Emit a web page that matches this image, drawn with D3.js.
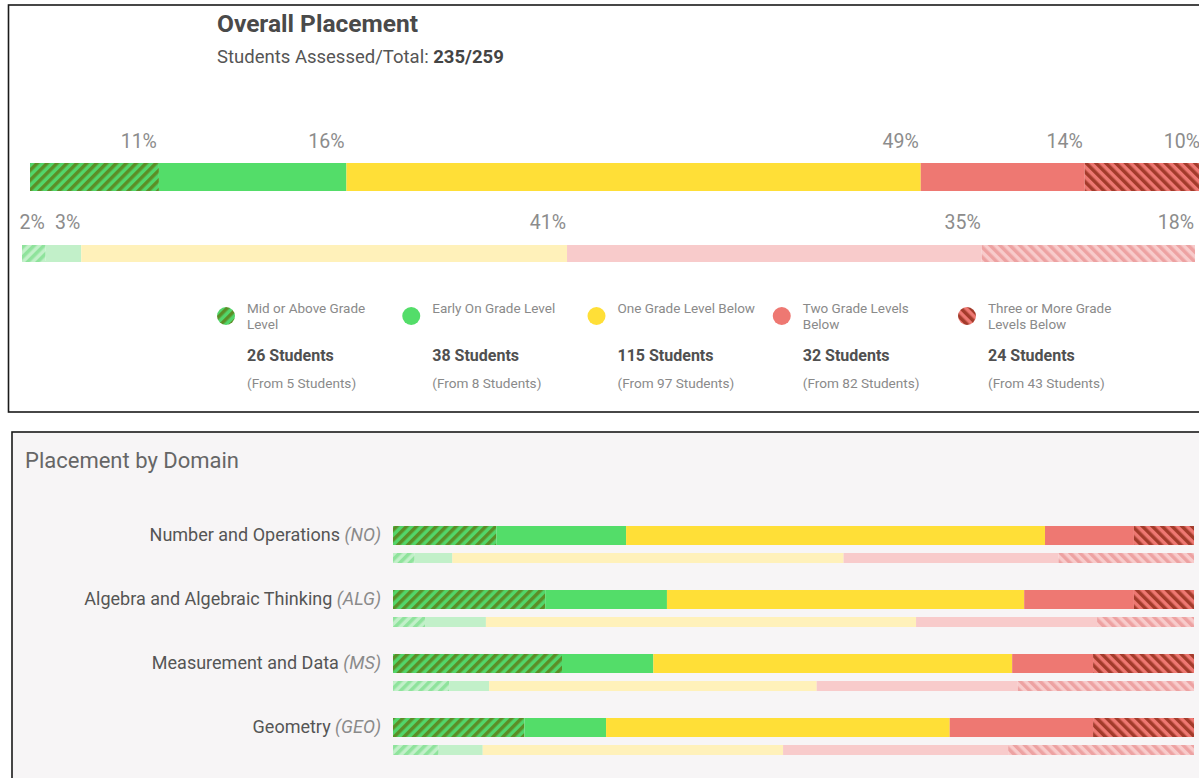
<!DOCTYPE html>
<html>
<head>
<meta charset="utf-8">
<script src="https://cdn.jsdelivr.net/npm/d3@7"></script>
<style>
  html, body { margin: 0; padding: 0; background: #ffffff; }
  svg { display: block; font-family: Roboto, "Noto Sans", sans-serif; }
</style>
</head>
<body>
<svg id="chart" width="1199" height="778"></svg>
<script>
// ---------- DATA ----------
const categories = ["Mid or Above Grade Level", "Early On Grade Level", "One Grade Level Below", "Two Grade Levels Below", "Three or More Grade Levels Below"];
const legendLines = [["Mid or Above Grade", "Level"], ["Early On Grade Level"], ["One Grade Level Below"], ["Two Grade Levels", "Below"], ["Three or More Grade", "Levels Below"]];
const currentCounts = [26, 38, 115, 32, 24];
const fromCounts = [5, 8, 97, 82, 43];
const currentPct = [11, 16, 49, 14, 10];
const fromPct = [2, 3, 41, 35, 18];
const assessed = 235;
const totalStudents = 259;

const domainNames = ["Number and Operations", "Algebra and Algebraic Thinking", "Measurement and Data", "Geometry"];
const domainAbbr = ["NO", "ALG", "MS", "GEO"];
// percent of students per category (current placement)
const domainCurrent = [
  [12.9, 16.2, 52.3, 11.1, 7.5],
  [19.0, 15.2, 44.6, 13.7, 7.5],
  [21.1, 11.4, 44.8, 10.1, 12.6],
  [16.4, 10.2, 42.9, 17.9, 12.6]
];
// percent of students per category (starting placement)
const domainFrom = [
  [2.7, 4.7, 48.8, 26.8, 16.9],
  [4.0, 7.6, 53.7, 22.6, 12.1],
  [7.0, 5.0, 40.9, 25.1, 22.0],
  [5.7, 5.5, 37.5, 28.1, 23.2]
];

// ---------- STYLE ----------
const solidColors = ["#52d66a", "#53dd69", "#ffdf37", "#ee7872", "#ee7872"];
const lightColors = ["#c2f0c9", "#c2f0c9", "#fff1ba", "#f8cbcb", "#f8cbcb"];

const svg = d3.select("#chart");
const defs = svg.append("defs");

function hatch(id, bg, fg, angle) {
  const p = defs.append("pattern")
    .attr("id", id)
    .attr("patternUnits", "userSpaceOnUse")
    .attr("width", 7).attr("height", 7)
    .attr("patternTransform", `rotate(${angle})`);
  p.append("rect").attr("width", 7).attr("height", 7).attr("fill", bg);
  p.append("rect").attr("width", 3.5).attr("height", 7).attr("fill", fg);
}
hatch("hGreen", "#52d66a", "#5b8e27", 45);
hatch("hRed", "#ee7872", "#a33b2b", -45);
hatch("hGreenL", "#c2f0c9", "#8fe39c", 45);
hatch("hRedL", "#f8cbcb", "#eda2a2", -45);

const solidFill = (i) => i === 0 ? "url(#hGreen)" : i === 4 ? "url(#hRed)" : solidColors[i];
const lightFill = (i) => i === 0 ? "url(#hGreenL)" : i === 4 ? "url(#hRedL)" : lightColors[i];

function stack(vals) {
  let acc = 0;
  return vals.map((v, i) => { const s = acc; acc += v; return { i, v, x0: s, x1: acc }; });
}

// ---------- TOP PANEL ----------
svg.append("rect").attr("x", 8.5).attr("y", 5).attr("width", 1210).attr("height", 407)
  .attr("fill", "#ffffff").attr("stroke", "#1a1a1a").attr("stroke-width", 1.6);

svg.append("text").attr("x", 217).attr("y", 32)
  .attr("font-size", 24.5).attr("font-weight", 700).attr("fill", "#4a4a4a")
  .text("Overall Placement");
const sub = svg.append("text").attr("x", 217).attr("y", 63)
  .attr("font-size", 18.5).attr("fill", "#555");
sub.append("tspan").text("Students Assessed/Total: ");
sub.append("tspan").attr("font-weight", 700).attr("fill", "#444").text(`${assessed}/${totalStudents}`);

const xTop = d3.scaleLinear().domain([0, d3.sum(currentPct)]).range([30, 1202]);
const xFrom = d3.scaleLinear().domain([0, d3.sum(fromPct)]).range([22, 1195]);

const topSegs = stack(currentPct);
const fromSegs = stack(fromPct);

svg.append("g").selectAll("rect").data(topSegs).join("rect")
  .attr("x", d => xTop(d.x0)).attr("width", d => xTop(d.x1) - xTop(d.x0))
  .attr("y", 163).attr("height", 28)
  .attr("fill", d => solidFill(d.i));
svg.append("g").selectAll("text").data(topSegs).join("text")
  .attr("x", d => xTop(d.x1) - 2).attr("y", 148)
  .attr("text-anchor", "end").attr("font-size", 19.5).attr("fill", "#8c8c8c")
  .text(d => d.v + "%");

svg.append("g").selectAll("rect").data(fromSegs).join("rect")
  .attr("x", d => xFrom(d.x0)).attr("width", d => xFrom(d.x1) - xFrom(d.x0))
  .attr("y", 245).attr("height", 17)
  .attr("fill", d => lightFill(d.i));
svg.append("g").selectAll("text").data(fromSegs).join("text")
  .attr("x", d => xFrom(d.x1) - 1).attr("y", 229)
  .attr("text-anchor", "end").attr("font-size", 19.5).attr("fill", "#8c8c8c")
  .text(d => d.v + "%");

// legend
const legendX = d3.scaleLinear().domain([0, 4]).range([226, 967]);
const lg = svg.append("g").selectAll("g").data(categories).join("g")
  .attr("transform", (d, i) => `translate(${legendX(i)},0)`);
lg.append("circle").attr("cx", 0).attr("cy", 316).attr("r", 9)
  .attr("fill", (d, i) => solidFill(i));
lg.each(function (d, i) {
  const g = d3.select(this);
  legendLines[i].forEach((line, k) => {
    g.append("text").attr("x", 21).attr("y", 313 + k * 16)
      .attr("font-size", 13.5).attr("fill", "#8a8a8a").text(line);
  });
  g.append("text").attr("x", 21).attr("y", 361)
    .attr("font-size", 16).attr("font-weight", 700).attr("fill", "#505050")
    .text(`${currentCounts[i]} Students`);
  g.append("text").attr("x", 21).attr("y", 388)
    .attr("font-size", 13.6).attr("fill", "#8a8a8a")
    .text(`(From ${fromCounts[i]} Students)`);
});

// ---------- BOTTOM PANEL ----------
svg.append("rect").attr("x", 12).attr("y", 432).attr("width", 1210).attr("height", 400)
  .attr("fill", "#f7f5f6").attr("stroke", "#1a1a1a").attr("stroke-width", 1.6);

svg.append("text").attr("x", 25).attr("y", 468)
  .attr("font-size", 22).attr("fill", "#666").text("Placement by Domain");

const xDom = d3.scaleLinear().domain([0, 100]).range([393, 1194]);
const yDom = d3.scaleBand().domain(domainNames).range([526, 782]).paddingInner(0);

domainNames.forEach((name, r) => {
  const y0 = yDom(name);
  const lab = svg.append("text").attr("x", 381).attr("y", y0 + 15)
    .attr("text-anchor", "end").attr("font-size", 18).attr("fill", "#555");
  lab.append("tspan").text(name + " ");
  lab.append("tspan").attr("font-style", "italic").attr("fill", "#8a8a8a").text(`(${domainAbbr[r]})`);

  const sumC = d3.sum(domainCurrent[r]);
  const segC = stack(domainCurrent[r].map(v => v / sumC * 100));
  svg.append("g").selectAll("rect").data(segC).join("rect")
    .attr("x", d => xDom(d.x0)).attr("width", d => xDom(d.x1) - xDom(d.x0))
    .attr("y", y0).attr("height", 19)
    .attr("fill", d => solidFill(d.i));

  const sumF = d3.sum(domainFrom[r]);
  const segF = stack(domainFrom[r].map(v => v / sumF * 100));
  svg.append("g").selectAll("rect").data(segF).join("rect")
    .attr("x", d => xDom(d.x0)).attr("width", d => xDom(d.x1) - xDom(d.x0))
    .attr("y", y0 + 27).attr("height", 10)
    .attr("fill", d => lightFill(d.i));
});
</script>
</body>
</html>
